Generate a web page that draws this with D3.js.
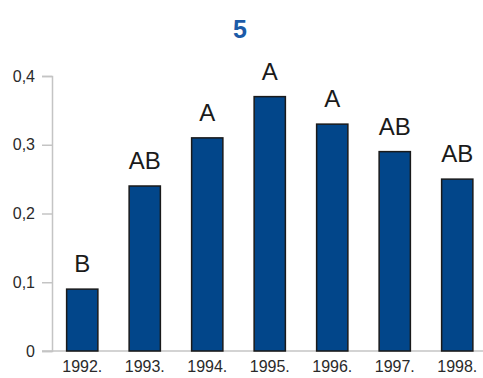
<!DOCTYPE html>
<html>
<head>
<meta charset="utf-8">
<script src="https://cdn.jsdelivr.net/npm/d3@7"></script>
<style>
  html, body { margin: 0; padding: 0; background: #fff; }
  svg { display: block; font-family: "Liberation Sans", Arial, sans-serif; }
</style>
</head>
<body>
<svg id="chart" width="483" height="378"></svg>
<script>
// Yearly means with significance group letters
const years = ["1992.", "1993.", "1994.", "1995.", "1996.", "1997.", "1998."];
const values = [0.09, 0.24, 0.31, 0.37, 0.33, 0.29, 0.25];
const groups = ["B", "AB", "A", "A", "A", "AB", "AB"];
const yTicks = [0, 0.1, 0.2, 0.3, 0.4];
const yTickLabels = ["0", "0,1", "0,2", "0,3", "0,4"];
const title = "5";

const svg = d3.select("#chart");

const x = d3.scaleBand()
  .domain(years)
  .range([51, 488.5])
  .paddingInner(0.5)
  .paddingOuter(0.25);

const y = d3.scaleLinear()
  .domain([0, 0.4])
  .range([351, 76]);

// Title
svg.append("text")
  .attr("x", 240)
  .attr("y", 38)
  .attr("text-anchor", "middle")
  .attr("font-size", 25)
  .attr("font-weight", "bold")
  .attr("fill", "#1c5ba8")
  .text(title);

// Horizontal baseline
svg.append("line")
  .attr("x1", 42).attr("x2", 483)
  .attr("y1", y(0)).attr("y2", y(0))
  .attr("stroke", "#c4c4c4")
  .attr("stroke-width", 1.5);

// Y axis
const yAxis = svg.append("g")
  .attr("transform", "translate(52,0)")
  .call(d3.axisLeft(y)
    .tickValues(yTicks)
    .tickFormat((d, i) => yTickLabels[i])
    .tickSizeInner(10)
    .tickSizeOuter(10)
    .tickPadding(7));
yAxis.selectAll("path, line")
  .attr("stroke", "#c4c4c4")
  .attr("stroke-width", 1.5);
yAxis.selectAll("text")
  .attr("font-size", 16)
  .attr("font-family", "Liberation Sans, Arial, sans-serif")
  .attr("fill", "#2a2a2a");

// X axis labels
const xAxis = svg.append("g")
  .attr("transform", `translate(0,${y(0)})`)
  .call(d3.axisBottom(x).tickSize(0).tickPadding(10));
xAxis.select(".domain").remove();
xAxis.selectAll("text")
  .attr("font-size", 16)
  .attr("font-family", "Liberation Sans, Arial, sans-serif")
  .attr("fill", "#2a2a2a");

// Bars
svg.append("g")
  .selectAll("rect")
  .data(values)
  .join("rect")
  .attr("x", (d, i) => x(years[i]))
  .attr("y", d => y(d))
  .attr("width", x.bandwidth())
  .attr("height", d => y(0) - y(d))
  .attr("fill", "#02468a")
  .attr("stroke", "#1a1a1a")
  .attr("stroke-width", 1.5);

// Group letters above bars
svg.append("g")
  .selectAll("text")
  .data(values)
  .join("text")
  .attr("x", (d, i) => x(years[i]) + x.bandwidth() / 2)
  .attr("y", d => y(d) - 17)
  .attr("text-anchor", "middle")
  .attr("font-size", 24)
  .attr("fill", "#1a1a1a")
  .text((d, i) => groups[i]);
</script>
</body>
</html>
